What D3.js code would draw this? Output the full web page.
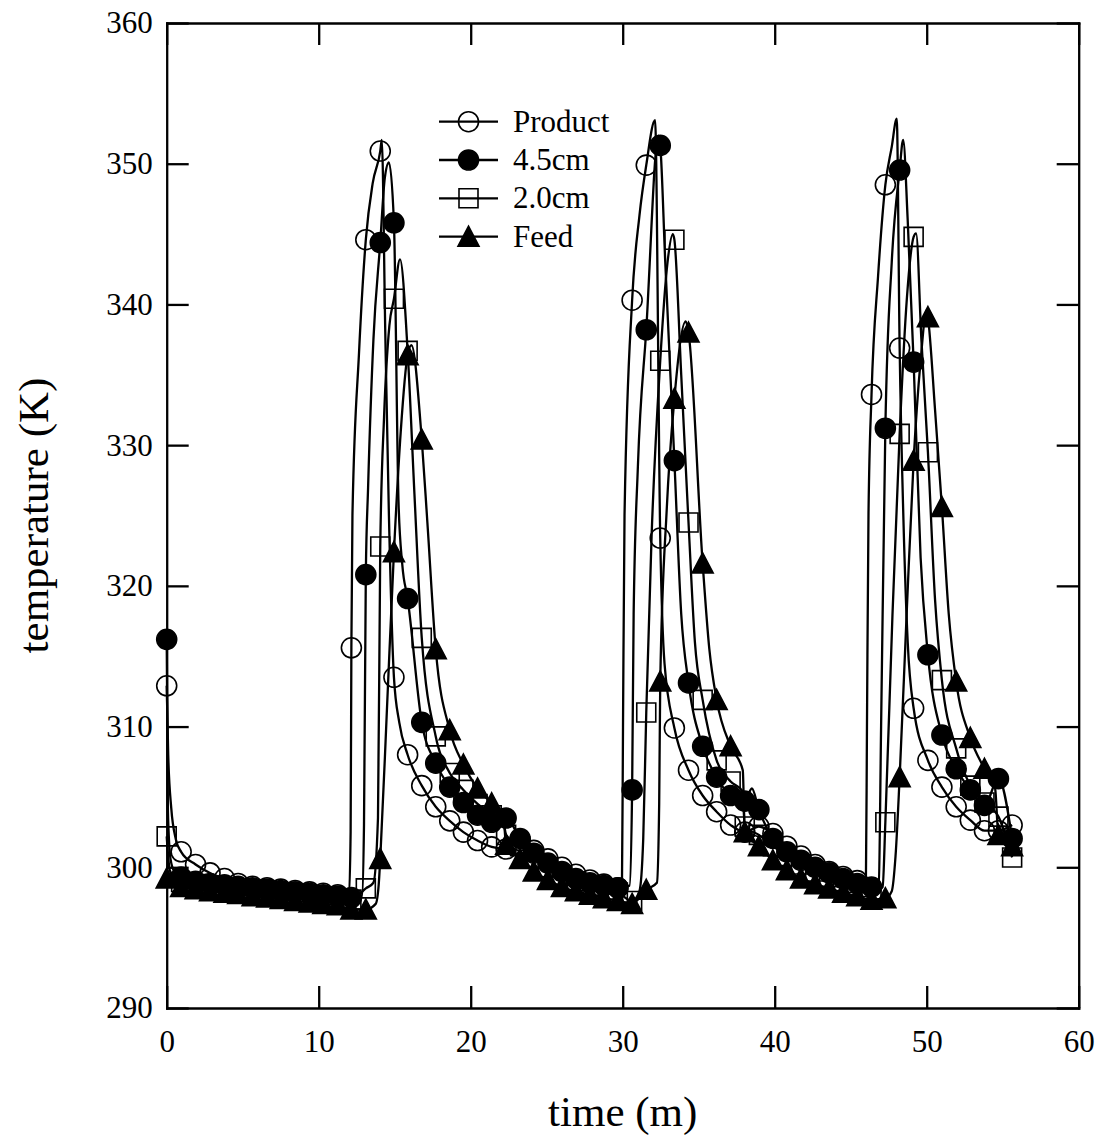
<!DOCTYPE html>
<html>
<head>
<meta charset="utf-8">
<script src="https://cdn.jsdelivr.net/npm/d3@7"></script>
<style>
  body { margin: 0; background: #fff; }
  svg text { font-family: "Liberation Serif", "Times New Roman", serif; fill: #000; }
</style>
</head>
<body>
<svg id="chart" width="1099" height="1141"></svg>
<script>
// sample times of the markers (min)
const markTimes = [
  0, 0.95, 1.9, 2.85, 3.8, 4.7, 5.65, 6.6, 7.5, 8.45,
  9.4, 10.3, 11.25, 12.15, 13.1, 14.05, 14.95, 15.85, 16.78, 17.7,
  18.62, 19.52, 20.45, 21.38, 22.33, 23.25, 24.15, 25.08, 26.0, 26.92,
  27.84, 28.76, 29.68, 30.62, 31.55, 32.47, 33.4, 34.33, 35.26, 36.18,
  37.1, 38.03, 38.96, 39.88, 40.8, 41.73, 42.66, 43.58, 44.5, 45.43,
  46.37, 47.28, 48.22, 49.14, 50.08, 51.0, 51.94, 52.87, 53.8, 54.72,
  55.62
];

// temperatures (K) at the marker times
const productVals = [
  312.9, 301.1, 300.2, 299.6, 299.2, 298.85, 298.65, 298.55, 298.45, 298.35,
  298.25, 298.15, 298.05, 315.6, 344.6, 350.9, 313.5, 308.0, 305.8, 304.3,
  303.3, 302.5, 301.9, 301.45, 301.3, 301.9, 301.2, 300.6, 300.0, 299.5,
  299.1, 298.8, 298.55, 340.3, 349.9, 323.4, 309.9, 306.9, 305.1, 303.95,
  303.0, 302.5, 302.9, 302.4, 301.5, 300.8, 300.2, 299.7, 299.35, 299.05,
  333.6, 348.5, 336.9, 311.3, 307.6, 305.7, 304.3, 303.35, 302.6, 302.6,
  303.0
];
const cm45Vals = [
  316.2, 299.3, 299.0, 298.85, 298.75, 298.65, 298.55, 298.45, 298.35, 298.25,
  298.15, 298.05, 297.95, 297.85, 320.8, 344.4, 345.8, 319.1, 310.3, 307.4,
  305.7, 304.6, 303.7, 303.2, 303.5, 302.05, 301.0, 300.3, 299.7, 299.2,
  298.9, 298.7, 298.55, 305.5, 338.2, 351.3, 328.9, 313.1, 308.6, 306.4,
  305.1, 304.7, 304.1, 302.05, 301.1, 300.5, 300.0, 299.6, 299.2, 298.85,
  298.6, 331.2, 349.55, 335.9, 315.1, 309.4, 307.0, 305.5, 304.4, 306.3,
  302.05
];
const cm20Vals = [
  302.2, 298.95, 298.8, 298.7, 298.6, 298.5, 298.4, 298.3, 298.2, 298.1,
  298.0, 297.9, 297.8, 297.7, 298.5, 322.8, 340.4, 336.7, 316.3, 309.3,
  306.7, 305.5, 304.5, 303.7, 302.3, 301.5, 300.7, 300.0, 299.4, 299.0,
  298.7, 298.4, 298.2, 297.6, 311.0, 336.0, 344.6, 324.5, 311.9, 307.6,
  306.1, 302.9, 302.3, 301.5, 300.8, 300.2, 299.7, 299.3, 298.9, 298.6,
  298.1, 303.2, 330.8, 344.8, 329.5, 313.3, 308.45, 305.8, 304.6, 303.6,
  300.7
];
const feedVals = [
  299.2, 298.6, 298.45, 298.3, 298.2, 298.1, 297.95, 297.85, 297.75, 297.6,
  297.5, 297.4, 297.3, 297.0, 297.0, 300.6, 322.4, 336.4, 330.4, 315.5,
  309.75, 307.3, 305.6, 304.55, 301.6, 300.6, 299.7, 299.1, 298.6, 298.3,
  298.05, 297.8, 297.6, 297.4, 298.4, 313.2, 333.3, 338.0, 321.6, 311.9,
  308.6, 302.5, 301.5, 300.5, 299.8, 299.2, 298.8, 298.5, 298.2, 297.95,
  297.7, 297.8, 306.4, 328.9, 339.1, 325.6, 313.2, 309.2, 307.0, 302.3,
  301.5
];

// extra curve points between markers (time, K): fast rises, peaks, switch drops
const productExtra = [
  [0.1, 308.0], [0.3, 304.2], [0.6, 302.0],
  [12.0, 298.1], [12.1, 302.5], [12.22, 325.0], [12.65, 336.5], [13.55, 348.6],
  [14.15, 351.7], [14.38, 338.0], [14.62, 325.0], [15.3, 310.3],
  [29.95, 298.6], [30.02, 310.0], [30.12, 325.0], [31.1, 346.3], [32.13, 353.1], [32.75, 314.5],
  [46.0, 298.95], [46.07, 310.0], [46.17, 325.0], [46.8, 342.0], [47.7, 351.2],
  [48.03, 353.2], [48.47, 324.7], [48.75, 316.0]
];
const cm45Extra = [
  [0.08, 304.0], [0.25, 300.6], [0.5, 299.7],
  [12.85, 297.95], [12.98, 303.0], [13.25, 327.0], [13.6, 337.5], [14.35, 349.0],
  [14.62, 350.1], [15.25, 326.0], [15.5, 321.5],
  [30.45, 298.7], [30.72, 318.0], [31.0, 328.5], [32.35, 352.0], [32.8, 343.0], [33.85, 318.0],
  [38.5, 305.6],
  [46.85, 299.0], [47.0, 310.0], [47.7, 343.0], [48.45, 351.7], [48.75, 346.0], [49.6, 322.0]
];
const cm20Extra = [
  [0.2, 299.8], [0.5, 299.2],
  [13.6, 298.9], [13.9, 303.5], [14.3, 332.0], [14.65, 338.5], [15.35, 343.2], [16.3, 326.5],
  [22.15, 303.2],
  [31.1, 298.3], [31.35, 302.0], [31.9, 323.5], [32.95, 343.0], [33.3, 345.0], [33.85, 335.0],
  [34.75, 316.0], [37.9, 305.4],
  [47.1, 298.6], [47.75, 318.0], [48.7, 340.5], [49.3, 345.05], [49.65, 337.5], [50.55, 319.0]
];
const feedExtra = [
  [0.3, 298.8],
  [13.75, 297.4], [13.95, 298.8], [14.5, 311.5], [15.4, 331.0], [16.1, 337.1], [17.15, 324.5],
  [22.15, 303.6],
  [32.25, 298.9], [32.4, 304.5], [32.9, 325.5], [34.15, 338.8], [35.7, 315.5], [37.9, 306.9],
  [47.7, 298.3], [47.95, 300.8], [48.7, 318.5], [49.6, 336.0], [50.0, 339.6], [50.55, 332.5],
  [51.45, 318.0], [54.5, 305.6]
];

const seriesNames = ["Product", "4.5cm", "2.0cm", "Feed"];
const xTicks = [0, 10, 20, 30, 40, 50, 60];
const yTicks = [290, 300, 310, 320, 330, 340, 350, 360];

const plotLeft = 166.7, plotRight = 1078.7, plotTop = 23, plotBottom = 1008;
const tickLen = 22;

const svg = d3.select('#chart');
svg.append('rect').attr('width', 1099).attr('height', 1141).attr('fill', '#fff');

const x = d3.scaleLinear().domain([0, 60]).range([plotLeft, plotRight]);
const y = d3.scaleLinear().domain([290, 360]).range([plotBottom, plotTop]);

// axes, ticks pointing inward on all four sides
function styleAxis(g) {
  g.attr('font-size', 31).attr('font-family', '"Liberation Serif", "Times New Roman", serif');
  g.selectAll('path.domain').attr('stroke', '#000').attr('stroke-width', 2.3).attr('stroke-linecap', 'square');
  g.selectAll('.tick line').attr('stroke', '#000').attr('stroke-width', 2.3);
  g.selectAll('.tick text').attr('fill', '#000');
}

svg.append('g')
  .attr('transform', `translate(0,${plotBottom})`)
  .call(d3.axisBottom(x).tickValues(xTicks).tickSizeInner(-tickLen).tickSizeOuter(0).tickPadding(22).tickFormat(d3.format('d')))
  .call(styleAxis);
svg.append('g')
  .attr('transform', `translate(0,${plotTop})`)
  .call(d3.axisTop(x).tickValues(xTicks).tickSizeInner(-tickLen).tickSizeOuter(0).tickFormat(''))
  .call(styleAxis);
svg.append('g')
  .attr('transform', `translate(${plotLeft},0)`)
  .call(d3.axisLeft(y).tickValues(yTicks).tickSizeInner(-tickLen).tickSizeOuter(0).tickPadding(14).tickFormat(d3.format('d')))
  .call(styleAxis);
svg.append('g')
  .attr('transform', `translate(${plotRight},0)`)
  .call(d3.axisRight(y).tickValues(yTicks).tickSizeInner(-tickLen).tickSizeOuter(0).tickFormat(''))
  .call(styleAxis);

// axis titles
svg.append('text')
  .attr('x', (plotLeft + plotRight) / 2).attr('y', 1126)
  .attr('text-anchor', 'middle').attr('font-size', 43)
  .text('time (m)');
svg.append('text')
  .attr('transform', `translate(48,${(plotTop + plotBottom) / 2}) rotate(-90)`)
  .attr('text-anchor', 'middle').attr('font-size', 43)
  .text('temperature (K)');

// series
const triPath = 'M0,-10.5L10.5,9.5L-10.5,9.5Z';
const circlePath = d3.symbol(d3.symbolCircle, Math.PI * 10 * 10)();
const squarePath = d3.symbol(d3.symbolSquare, 19 * 19)();

const series = [
  { name: seriesNames[0], vals: productVals, extra: productExtra, shape: circlePath, filled: false },
  { name: seriesNames[1], vals: cm45Vals, extra: cm45Extra, shape: circlePath, filled: true },
  { name: seriesNames[2], vals: cm20Vals, extra: cm20Extra, shape: squarePath, filled: false },
  { name: seriesNames[3], vals: feedVals, extra: feedExtra, shape: triPath, filled: true }
];

const line = d3.line()
  .x(d => x(d[0]))
  .y(d => y(d[1]))
  .curve(d3.curveMonotoneX);

const plot = svg.append('g');

for (const s of series) {
  const pts = markTimes.map((t, i) => [t, s.vals[i]]).concat(s.extra).sort((a, b) => a[0] - b[0]);
  plot.append('path')
    .attr('d', line(pts))
    .attr('fill', 'none')
    .attr('stroke', '#000')
    .attr('stroke-width', 2.3);
}

for (const s of series) {
  plot.append('g').selectAll('path')
    .data(markTimes.map((t, i) => [t, s.vals[i]]))
    .enter()
    .append('path')
    .attr('d', s.shape)
    .attr('transform', d => `translate(${x(d[0])},${y(d[1])})`)
    .attr('fill', s.filled ? '#000' : 'none')
    .attr('stroke', '#000')
    .attr('stroke-width', 1.6);
}

// legend
const legendRows = [121.7, 160, 198.3, 236.7];
const legend = svg.append('g');
series.forEach((s, i) => {
  const ly = legendRows[i];
  legend.append('line')
    .attr('x1', 439).attr('x2', 498).attr('y1', ly).attr('y2', ly)
    .attr('stroke', '#000').attr('stroke-width', 2.3);
  legend.append('path')
    .attr('d', s.shape)
    .attr('transform', `translate(468.5,${ly})`)
    .attr('fill', s.filled ? '#000' : 'none')
    .attr('stroke', '#000').attr('stroke-width', 1.6);
  legend.append('text')
    .attr('x', 513).attr('y', ly + 10)
    .attr('font-size', 31)
    .text(s.name);
});
</script>
</body>
</html>
